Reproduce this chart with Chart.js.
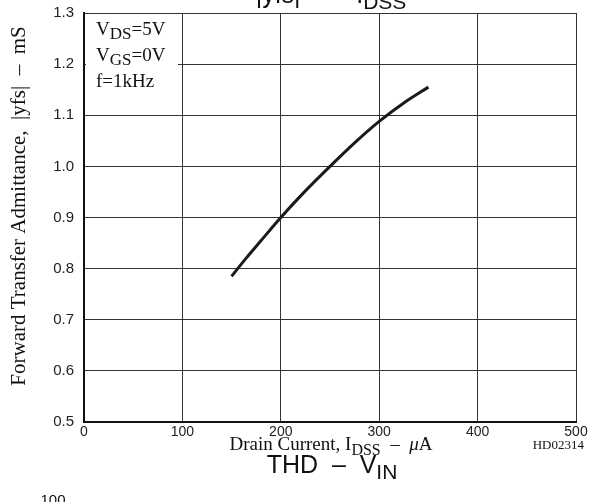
<!DOCTYPE html>
<html>
<head>
<meta charset="utf-8">
<script src="https://cdn.jsdelivr.net/npm/chart.js@4"></script>
<style>
  html, body { margin: 0; padding: 0; background: #fff; }
  #wrap { width: 590px; height: 502px; position: relative; }
</style>
</head>
<body>
<div id="wrap"><canvas id="yfs-chart" width="590" height="502"></canvas></div>
<script>
// drain current IDSS (uA) and |yfs| (mS)
const idss = [150, 165, 180, 200, 225, 250, 275, 300, 325, 350];
const yfs = [0.785, 0.821, 0.855, 0.900, 0.952, 1.000, 1.046, 1.088, 1.124, 1.155];

const xTicks = [0, 100, 200, 300, 400, 500];
const yTicks = [0.5, 0.6, 0.7, 0.8, 0.9, 1.0, 1.1, 1.2, 1.3];

const conditions = [
    [{ t: 'V' }, { t: 'DS', sub: true }, { t: '=5V' }],
    [{ t: 'V' }, { t: 'GS', sub: true }, { t: '=0V' }],
    [{ t: 'f=1kHz' }]
];

const serif = '"Liberation Serif", "Times New Roman", serif';
const sans = '"Liberation Sans", Arial, sans-serif';

// draws a line of text with subscripts, returns width
function drawRich(ctx, parts, x, y, size, family, subSize, subDrop, align) {
    let total = 0;
    parts.forEach(p => {
        ctx.font = (p.italic ? 'italic ' : '') + (p.sub ? subSize : size) + 'px ' + family;
        total += ctx.measureText(p.t).width;
    });
    let cx = align === 'center' ? x - total / 2 : x;
    ctx.textAlign = 'left';
    ctx.textBaseline = 'alphabetic';
    parts.forEach(p => {
        ctx.font = (p.italic ? 'italic ' : '') + (p.sub ? subSize : size) + 'px ' + family;
        ctx.fillText(p.t, cx, p.sub ? y + subDrop : y);
        cx += ctx.measureText(p.t).width;
    });
    return total;
}

const textPlugin = {
    id: 'datasheetText',
    beforeDatasetsDraw(chart) {
        const ctx = chart.ctx;
        const area = chart.chartArea;
        // white box behind the test conditions
        ctx.save();
        ctx.fillStyle = '#fff';
        ctx.fillRect(area.left + 2, area.top + 2, 92, 80);
        ctx.restore();
    },
    afterDraw(chart) {
        const ctx = chart.ctx;
        const area = chart.chartArea;
        ctx.save();
        ctx.fillStyle = '#111';

        // test conditions
        conditions.forEach((line, i) => {
            drawRich(ctx, line, area.left + 12, area.top + 22 + i * 26, 19, serif, 17, 4);
        });

        // cut-off title at the top
        drawRich(ctx, [{ t: '|yfs|   –   I' }, { t: 'DSS', sub: true }], 331, 3, 25, sans, 21, 6, 'center');

        // x axis title
        drawRich(ctx, [{ t: 'Drain Current, I' }, { t: 'DSS', sub: true }, { t: '  –  ' }, { t: 'μ', italic: true }, { t: 'A' }],
            331, 450, 19, serif, 16, 5, 'center');
        ctx.font = '13px ' + serif;
        ctx.textAlign = 'right';
        ctx.fillText('HD02314', 584, 449);

        // y axis title
        ctx.translate(25, 206);
        ctx.rotate(-Math.PI / 2);
        ctx.font = '21px ' + serif;
        ctx.textAlign = 'center';
        ctx.fillText('Forward Transfer Admittance,  |yfs|  –  mS', 0, 0);
        ctx.setTransform(1, 0, 0, 1, 0, 0);

        // next chart's heading, cut off
        drawRich(ctx, [{ t: 'THD  –  V' }, { t: 'IN', sub: true }], 332, 473, 25, sans, 21, 6, 'center');
        ctx.font = '15px ' + sans;
        ctx.textAlign = 'center';
        ctx.fillText('100', 53, 505);
        ctx.restore();
    }
};

document.addEventListener('DOMContentLoaded', () => {
    const ctx = document.getElementById('yfs-chart').getContext('2d');
    new Chart(ctx, {
        type: 'line',
        data: {
            datasets: [{
                data: idss.map((x, i) => ({ x: x, y: yfs[i] })),
                borderColor: '#1a1a1a',
                borderWidth: 3,
                pointRadius: 0,
                cubicInterpolationMode: 'monotone',
                fill: false
            }]
        },
        options: {
            responsive: false,
            animation: false,
            layout: { padding: { left: 0, right: 14, top: 13, bottom: 0 } },
            plugins: { legend: { display: false }, tooltip: { enabled: false } },
            scales: {
                x: {
                    type: 'linear',
                    min: 0,
                    max: 500,
                    afterBuildTicks: s => { s.ticks = xTicks.map(v => ({ value: v })); },
                    afterFit: s => { s.height = 80; s.paddingLeft = 0; s.paddingRight = 0; },
                    grid: { color: '#333', lineWidth: 1, drawTicks: false },
                    border: { color: '#111', width: 2 },
                    ticks: { color: '#222', font: { family: sans, size: 14 }, padding: 2, maxRotation: 0 }
                },
                y: {
                    min: 0.5,
                    max: 1.3,
                    afterBuildTicks: s => { s.ticks = yTicks.map(v => ({ value: v })); },
                    afterFit: s => { s.width = 84; s.paddingTop = 0; s.paddingBottom = 0; },
                    grid: { color: '#333', lineWidth: 1, drawTicks: false },
                    border: { color: '#111', width: 2 },
                    ticks: {
                        color: '#222',
                        font: { family: sans, size: 15 },
                        padding: 10,
                        callback: v => Number(v).toFixed(1)
                    }
                }
            }
        },
        plugins: [textPlugin]
    });
});
</script>
</body>
</html>
